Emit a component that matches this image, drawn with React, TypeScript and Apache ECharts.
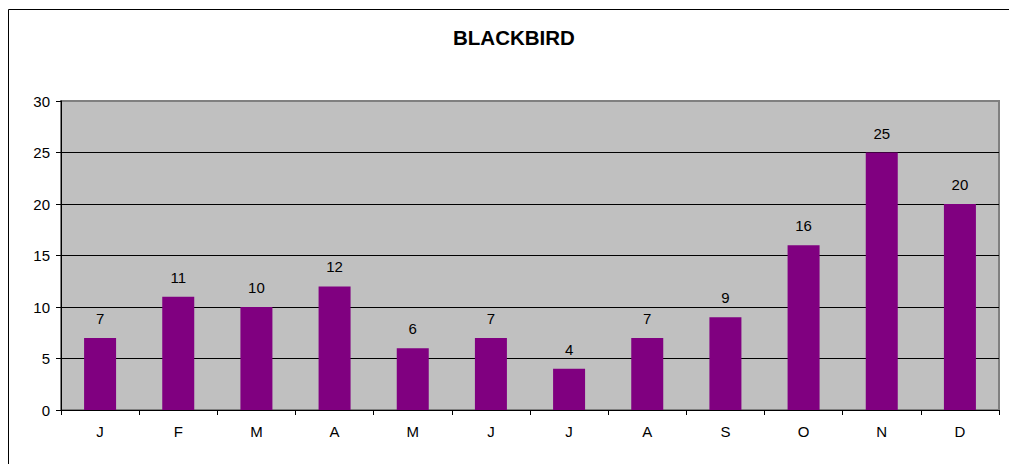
import React, { useEffect, useRef } from "react";
import * as echarts from "echarts";

const title = "BLACKBIRD";
const months = ["J", "F", "M", "A", "M", "J", "J", "A", "S", "O", "N", "D"];
const counts = [7, 11, 10, 12, 6, 7, 4, 7, 9, 16, 25, 20];
const yTicks = { min: 0, max: 30, interval: 5 };

const FONT = "Arial, 'Liberation Sans', Helvetica, sans-serif";

export default function App() {
  const ref = useRef<HTMLDivElement>(null);
  useEffect(() => {
    if (!ref.current) return;
    const chart = echarts.init(ref.current, undefined, { renderer: "svg" });
    chart.setOption({
      animation: false,
      backgroundColor: "#ffffff",
      textStyle: { fontFamily: FONT },
      title: {
        text: title,
        left: 448,
        top: 22,
        padding: 5,
        textStyle: { fontFamily: FONT, fontWeight: "bold", fontSize: 20.5, color: "#000" },
      },
      graphic: [
        { type: "line", shape: { x1: 8.5, y1: 9.5, x2: 1009, y2: 9.5 }, style: { stroke: "#000", lineWidth: 1 }, silent: true },
        { type: "line", shape: { x1: 8.5, y1: 9.5, x2: 8.5, y2: 464 }, style: { stroke: "#000", lineWidth: 1 }, silent: true },
      ],
      grid: {
        left: 61,
        right: 10,
        top: 101,
        bottom: 54,
        show: true,
        backgroundColor: "#C0C0C0",
        borderColor: "#808080",
        borderWidth: 2,
      },
      xAxis: {
        type: "category",
        data: months,
        boundaryGap: true,
        axisLine: { show: true, lineStyle: { color: "#000", width: 1 } },
        axisTick: { show: true, length: 5, alignWithLabel: false, lineStyle: { color: "#000" } },
        axisLabel: { color: "#000", fontSize: 15, margin: 14, fontFamily: FONT },
        splitLine: { show: false },
      },
      yAxis: {
        type: "value",
        min: yTicks.min,
        max: yTicks.max,
        interval: yTicks.interval,
        axisLine: { show: true, lineStyle: { color: "#000", width: 1 } },
        axisTick: { show: true, length: 5, lineStyle: { color: "#000" } },
        axisLabel: { color: "#000", fontSize: 15, margin: 11, fontFamily: FONT },
        splitLine: { show: true, showMaxLine: false, lineStyle: { color: "#000", width: 1 } },
      },
      series: [
        {
          type: "bar",
          data: counts,
          barWidth: 32,
          itemStyle: { color: "#800080" },
          label: {
            show: true,
            position: "top",
            distance: 12,
            color: "#000",
            fontSize: 15,
            fontFamily: FONT,
          },
        },
      ],
    });
    return () => chart.dispose();
  }, []);
  return (
    <div
      ref={ref}
      style={{ position: "fixed", left: 0, top: 0, width: 1009, height: 464 }}
    />
  );
}
